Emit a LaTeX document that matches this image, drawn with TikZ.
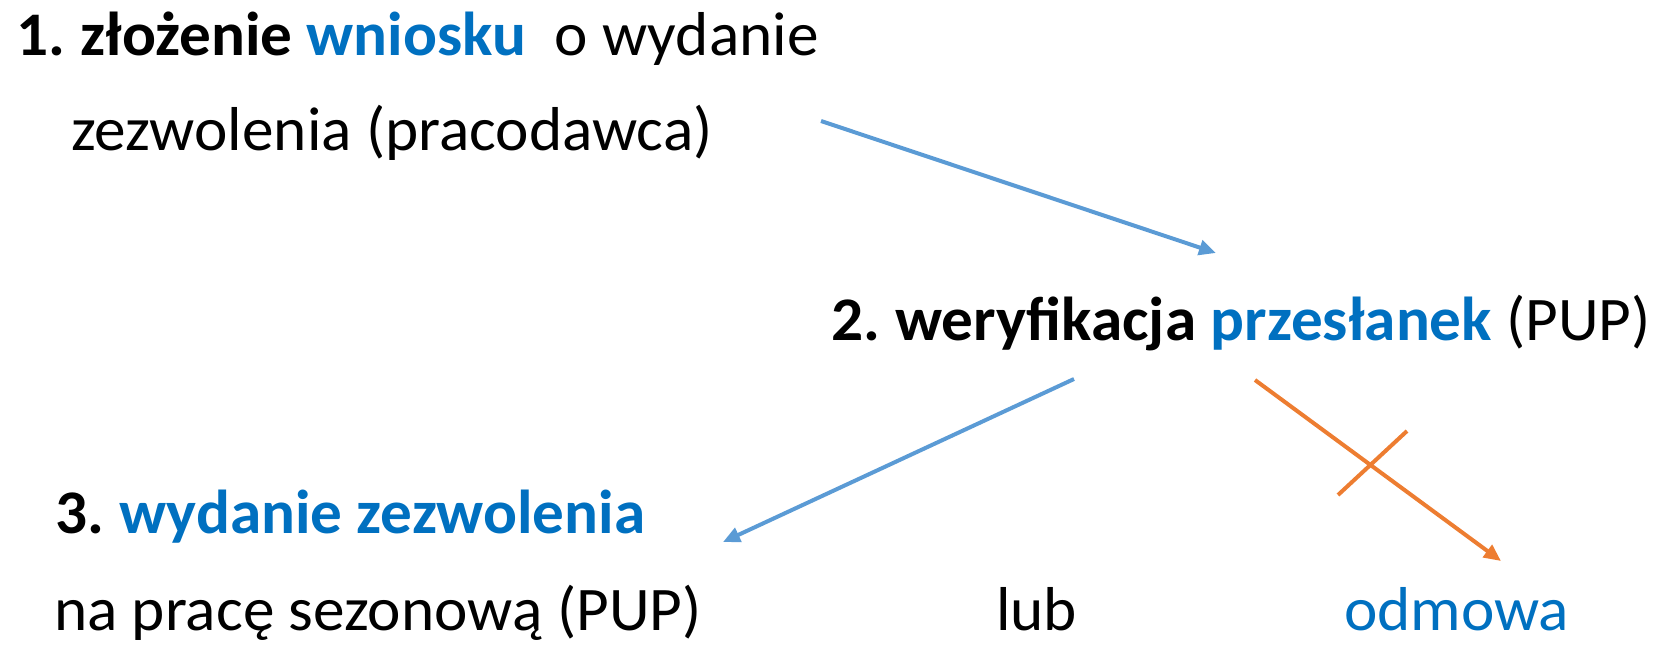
\documentclass[tikz,border=0pt]{standalone}
\usepackage{fontspec}
\setmainfont{Carlito}[FakeStretch=1.02]
\usetikzlibrary{arrows.meta}
\definecolor{tblue}{HTML}{0070C0}
\definecolor{ablue}{HTML}{5B9BD5}
\definecolor{aorange}{HTML}{ED7D31}
\begin{document}
\begin{tikzpicture}[x=1pt,y=-1pt,
  txt/.style={anchor=base west,inner sep=0pt,font=\fontsize{62}{70}\selectfont},
  conn/.style={line width=4pt,-{Triangle[length=17pt,width=15pt]}},
  crossline/.style={line width=4pt,draw=aorange}]
\useasboundingbox (0,0) rectangle (1666,645);
\node[txt] (l1) at (16,55) {\textbf{1.\kern-4pt{} złożenie \textcolor{tblue}{wniosku}}\ \ o wydanie};
\node[txt] (l2) at (71,150) {zezwolenia (pracodawca)};
\node[txt] (l3) at (831,340) {\textbf{2.\kern-4pt{} weryfikacja \textcolor{tblue}{przesłanek}} (PUP)};
\node[txt] (l4) at (55,533) {\textbf{3.\kern-4pt{} \textcolor{tblue}{wydanie zezwolenia}}};
\node[txt] (l5) at (54,630) {na pracę sezonową (PUP)};
\node[txt] (lub) at (996,630) {lub};
\node[txt,text=tblue] (odm) at (1344,630) {odmowa};
\coordinate (a1s) at (821,121);
\coordinate (a1e) at (1216,253);
\coordinate (a2s) at (1074,379);
\coordinate (a2e) at (723,542);
\coordinate (a3s) at (1255,380);
\coordinate (a3e) at (1501,561);
\coordinate (x1) at (1407,431);
\coordinate (x2) at (1338,495);
\draw[conn,draw=ablue,fill=ablue] (a1s) -- (a1e);
\draw[conn,draw=ablue,fill=ablue] (a2s) -- (a2e);
\draw[conn,draw=aorange,fill=aorange] (a3s) -- (a3e);
\draw[crossline] (x1) -- (x2);
\end{tikzpicture}
\end{document}
